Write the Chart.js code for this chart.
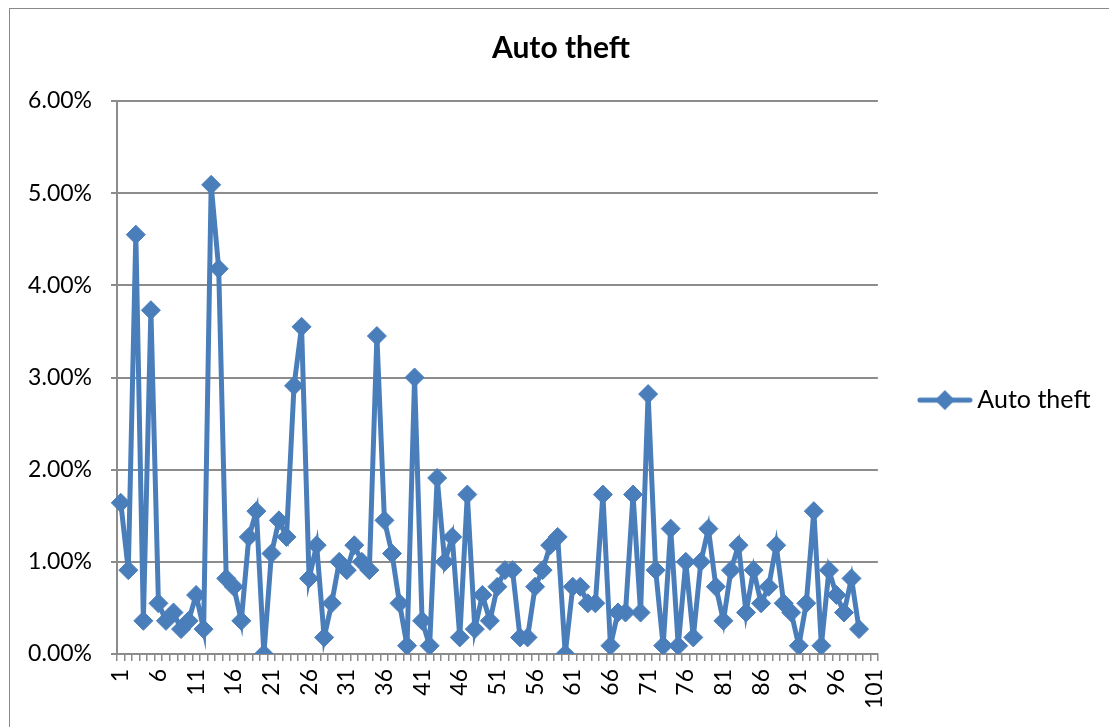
<!DOCTYPE html>
<html><head><meta charset="utf-8">
<script src="https://cdn.jsdelivr.net/npm/chart.js@4.4.1/dist/chart.umd.min.js"></script>
<style>
html,body{margin:0;padding:0;background:#fff;}
#wrap{position:relative;width:1109px;height:727px;overflow:hidden;}
#frame{position:absolute;left:9px;top:8px;width:1200px;height:800px;border:1px solid #898989;}
canvas{position:absolute;left:0;top:0;}
</style></head><body>
<div id="wrap"><div id="frame"></div><canvas id="c" width="1109" height="727"></canvas></div>
<script>
const chartTitle = 'Auto theft';
const seriesName = 'Auto theft';
const categories = Array.from({length: 101}, (_, i) => String(i + 1));
const autoTheft = [
  1.64, 0.91, 4.55, 0.36, 3.73, 0.55, 0.36, 0.45, 0.27, 0.36,
  0.64, 0.27, 5.09, 4.18, 0.82, 0.73, 0.36, 1.27, 1.55, 0.00,
  1.09, 1.45, 1.27, 2.91, 3.55, 0.82, 1.18, 0.18, 0.55, 1.00,
  0.91, 1.18, 1.00, 0.91, 3.45, 1.45, 1.09, 0.55, 0.09, 3.00,
  0.36, 0.09, 1.91, 1.00, 1.27, 0.18, 1.73, 0.27, 0.64, 0.36,
  0.73, 0.91, 0.91, 0.18, 0.18, 0.73, 0.91, 1.18, 1.27, 0.00,
  0.73, 0.73, 0.55, 0.55, 1.73, 0.09, 0.45, 0.45, 1.73, 0.45,
  2.82, 0.91, 0.09, 1.36, 0.09, 1.00, 0.18, 1.00, 1.36, 0.73,
  0.36, 0.91, 1.18, 0.45, 0.91, 0.55, 0.73, 1.18, 0.55, 0.45,
  0.09, 0.55, 1.55, 0.09, 0.91, 0.64, 0.45, 0.82, 0.27
];
const yTickLabels = ['0.00%', '1.00%', '2.00%', '3.00%', '4.00%', '5.00%', '6.00%'];

const BLUE = '#4a7ebb';
const GRID = '#8c8c8c';
const FONT = 'Lato';

// legend icon: line with diamond
const icon = document.createElement('canvas');
icon.width = 56; icon.height = 24;
(function(){
  const g = icon.getContext('2d');
  g.strokeStyle = BLUE; g.lineWidth = 5; g.lineCap = 'round';
  g.beginPath(); g.moveTo(3, 12); g.lineTo(53, 12); g.stroke();
  g.fillStyle = BLUE;
  g.beginPath(); g.moveTo(28, 2); g.lineTo(38, 12); g.lineTo(28, 22); g.lineTo(18, 12); g.closePath(); g.fill();
})();

new Chart(document.getElementById('c'), {
  type: 'line',
  data: {
    labels: categories,
    datasets: [{
      label: seriesName,
      data: autoTheft,
      borderColor: BLUE,
      backgroundColor: BLUE,
      borderWidth: 5,
      pointStyle: 'rectRot',
      pointRadius: 9.5,
      pointBorderWidth: 1,
      pointBackgroundColor: BLUE,
      pointBorderColor: BLUE,
      tension: 0,
      fill: false
    }]
  },
  options: {
    responsive: false,
    animation: false,
    devicePixelRatio: 1,
    layout: { padding: { left: 21.5, right: 8.5, top: 0, bottom: 0 } },
    plugins: {
      title: {
        display: true,
        text: chartTitle,
        color: '#000',
        font: { family: FONT, size: 30, weight: 'bold' },
        padding: { top: 30, bottom: 35 }
      },
      legend: {
        position: 'right',
        fullSize: false,
        title: { display: true, text: ' ', padding: { top: 44, bottom: 0 }, font: { size: 1 } },
        labels: {
          color: '#000',
          font: { family: FONT, size: 25 },
          usePointStyle: true,
          pointStyle: icon,
          pointStyleWidth: 40,
          padding: 47
        }
      },
      tooltip: { enabled: false }
    },
    scales: {
      x: {
        type: 'category',
        offset: true,
        afterFit: (s) => { s.height = 73; },
        grid: {
          display: true,
          offset: true,
          drawOnChartArea: false,
          drawTicks: true,
          tickLength: 7,
          color: GRID,
          lineWidth: 1.5
        },
        border: { display: true, color: GRID, width: 2 },
        ticks: {
          autoSkip: false,
          minRotation: 90,
          maxRotation: 90,
          padding: 8,
          color: '#000',
          font: { family: FONT, size: 23 },
          callback: (v, i) => (i % 5 === 0 ? categories[i] : '')
        }
      },
      y: {
        min: 0,
        max: 6,
        afterFit: (s) => { s.width = 95.5; },
        grid: {
          color: GRID,
          lineWidth: 2,
          drawTicks: true,
          tickLength: 6
        },
        border: { display: true, color: GRID, width: 2 },
        ticks: {
          stepSize: 1,
          padding: 19,
          color: '#000',
          font: { family: FONT, size: 23 },
          callback: (v, i) => yTickLabels[i]
        }
      }
    }
  }
});
</script>
</body></html>
